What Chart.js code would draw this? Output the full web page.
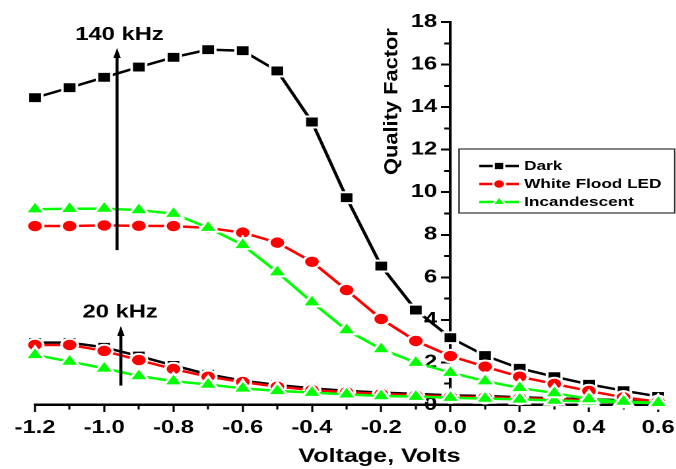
<!DOCTYPE html>
<html><head><meta charset="utf-8">
<script src="https://cdn.jsdelivr.net/npm/chart.js@4/dist/chart.umd.min.js"></script>
<style>
html,body{margin:0;padding:0;background:#fff;overflow:hidden;width:676px;height:469px;}
#wrap{position:absolute;left:0;top:0;width:512px;height:469px;transform:scaleX(1.3203125);transform-origin:0 0;}
</style></head><body>
<div id="wrap"><canvas id="c"></canvas></div>
<script>
// ---------- data ----------
const voltages = [-1.2,-1.1,-1.0,-0.9,-0.8,-0.7,-0.6,-0.5,-0.4,-0.3,-0.2,-0.1,0.0,0.1,0.2,0.3,0.4,0.5,0.6];
const dark140 = [14.44,14.91,15.40,15.88,16.34,16.70,16.65,15.70,13.30,9.74,6.53,4.46,3.16,2.32,1.72,1.33,0.97,0.67,0.40];
const led140  = [8.41,8.41,8.44,8.42,8.41,8.32,8.10,7.63,6.73,5.40,4.04,3.01,2.30,1.80,1.33,0.99,0.66,0.36,0.15];
const inc140  = [9.20,9.22,9.23,9.16,8.99,8.33,7.52,6.24,4.83,3.52,2.63,1.99,1.52,1.12,0.80,0.56,0.28,0.16,0.10];
const dark20  = [2.93,2.93,2.71,2.30,1.86,1.44,1.14,0.94,0.78,0.66,0.58,0.52,0.45,0.42,0.36,0.31,0.27,0.22,0.17];
const led20   = [2.82,2.82,2.54,2.11,1.69,1.33,1.08,0.86,0.70,0.60,0.52,0.45,0.39,0.36,0.32,0.27,0.22,0.17,0.12];
const inc20   = [2.35,2.04,1.72,1.36,1.12,0.96,0.78,0.66,0.58,0.50,0.42,0.39,0.34,0.30,0.26,0.21,0.16,0.12,0.08];
const seriesNames = ['Dark','White Flood LED','Incandescent'];
const freqLabels = ['140 kHz','20 kHz'];
const xTitle = 'Voltage, Volts';
const yTitle = 'Quality Factor';

// ---------- styling / layout ----------
const S = 676/512;
const FONT = "'Liberation Sans', Arial, sans-serif";
const colors = ['#000000','#ff0000','#00ff00'];
const shapes = ['rect','circle','triangle'];
const radii = [7.7,6.2,8.4];
const orders = [3,2,1];
const annotations = [
  {text: freqLabels[0], tx: -0.956, ty: 17.15, ax: -0.963, yBottom: 7.28, yTop: 16.78},
  {text: freqLabels[1], tx: -0.954, ty: 4.12, ax: -0.952, yBottom: 0.91, yTop: 3.71}
];

function pts(vals){ return vals.map((v,i)=>({x: voltages[i], y: v})); }
function ds(label, vals, k, inLegend){
  return {label, data: pts(vals), borderColor: colors[k], backgroundColor: colors[k],
    pointBackgroundColor: colors[k], pointBorderColor:'#ffffff', pointBorderWidth:2,
    pointStyle: shapes[k], pointRadius: radii[k], borderWidth:2.5, tension:0, clip:false,
    order: orders[k], inLegend};
}
const datasets = [
  ds(seriesNames[0], dark140, 0, true),
  ds(seriesNames[1], led140, 1, true),
  ds(seriesNames[2], inc140, 2, true),
  ds(seriesNames[0]+' ('+freqLabels[1]+')', dark20, 0, false),
  ds(seriesNames[1]+' ('+freqLabels[1]+')', led20, 1, false),
  ds(seriesNames[2]+' ('+freqLabels[1]+')', inc20, 2, false)
];

function drawMarker(ctx, shape, x, y, r, fill, bw){
  ctx.beginPath();
  if (shape==='rect'){ const s=Math.SQRT1_2*r; ctx.rect(x-s,y-s,2*s,2*s); }
  else if (shape==='circle'){ ctx.arc(x,y,r,0,Math.PI*2); }
  else { let a=0; ctx.moveTo(x+Math.sin(a)*r, y-Math.cos(a)*r); a+=2*Math.PI/3; ctx.lineTo(x+Math.sin(a)*r, y-Math.cos(a)*r); a+=2*Math.PI/3; ctx.lineTo(x+Math.sin(a)*r, y-Math.cos(a)*r); ctx.closePath(); }
  ctx.fillStyle=fill; ctx.fill();
  if (bw){ ctx.lineWidth=bw; ctx.strokeStyle='#fff'; ctx.stroke(); }
}

const decor = {
  id:'decor',
  afterDatasetsDraw(chart){
    const ctx = chart.ctx, xs = chart.scales.x, ys = chart.scales.y;
    ctx.save();
    // frequency annotations with arrows
    annotations.forEach(a=>{
      const x = xs.getPixelForValue(a.ax), yb = ys.getPixelForValue(a.yBottom), yt = ys.getPixelForValue(a.yTop);
      ctx.strokeStyle='#000'; ctx.fillStyle='#000'; ctx.lineWidth=2.3;
      ctx.beginPath(); ctx.moveTo(x,yb); ctx.lineTo(x,yt+8); ctx.stroke();
      ctx.beginPath(); ctx.moveTo(x,yt); ctx.lineTo(x-2.8,yt+10); ctx.lineTo(x+2.8,yt+10); ctx.closePath(); ctx.fill();
      ctx.font = 'bold 18px '+FONT; ctx.textAlign='center'; ctx.textBaseline='alphabetic';
      ctx.fillText(a.text, xs.getPixelForValue(a.tx), ys.getPixelForValue(a.ty));
    });
    // x axis title
    ctx.font = 'bold 19px '+FONT; ctx.textAlign='center'; ctx.textBaseline='alphabetic'; ctx.fillStyle='#000';
    ctx.fillText(xTitle, xs.getPixelForValue(-0.205), chart.chartArea.bottom + 57);
    // y axis title (reads bottom to top)
    ctx.save();
    ctx.translate(xs.getPixelForValue(0) - 40.2, ys.getPixelForValue(14.26));
    ctx.rotate(-Math.PI/2);
    ctx.scale(1.12, 1/S);
    ctx.font = 'bold 19.5px '+FONT; ctx.textAlign='center'; ctx.textBaseline='alphabetic';
    ctx.fillText(yTitle, 0, 0);
    ctx.restore();
    // legend box
    const L = 347.7, T = 149, W = 163.3, H = 64;
    ctx.fillStyle='#fff'; ctx.fillRect(L,T,W,H);
    ctx.strokeStyle='#333'; ctx.lineWidth=1.2; ctx.strokeRect(L,T,W,H);
    const items = chart.data.datasets.filter(d=>d.inLegend);
    items.forEach((d,i)=>{
      const y = 166 + i*18;
      ctx.strokeStyle=d.borderColor; ctx.lineWidth=2.5;
      ctx.beginPath(); ctx.moveTo(363,y); ctx.lineTo(393,y); ctx.stroke();
      const k = shapes.indexOf(d.pointStyle);
      drawMarker(ctx, d.pointStyle, 378, y, [5.6,4.5,5.6][k], d.borderColor, 1.6);
      ctx.fillStyle='#000'; ctx.font='bold 13px '+FONT; ctx.textAlign='left'; ctx.textBaseline='middle';
      ctx.fillText(d.label, 397, y+0.5);
    });
    ctx.restore();
  }
};

const minorDash = (c) => (c.tick && Math.abs(Math.round(c.tick.value*10)) % 2 === 1 ? [3.5, 60] : []);
const minorDashY = (c) => (c.tick && Math.round(c.tick.value) % 2 === 1 ? [3.5, 60] : []);

new Chart(document.getElementById('c'), {
  type:'line',
  data:{datasets},
  options:{
    responsive:true, maintainAspectRatio:false, animation:false, devicePixelRatio:2,
    layout:{padding:{left:26.5, right:13.5, top:22, bottom:25}},
    plugins:{legend:{display:false}, tooltip:{enabled:false}},
    scales:{
      x:{type:'linear', position:'bottom', min:-1.2, max:0.6,
        ticks:{stepSize:0.1, autoSkip:false, maxRotation:0, padding:0, color:'#000',
          font:{family:FONT, size:18, weight:'bold', lineHeight:1.78},
          callback:(v)=> (Math.abs(Math.round(v*10))%2===0 ? (Math.round(v*10)/10).toFixed(1) : '')},
        grid:{drawOnChartArea:false, drawTicks:true, tickLength:7, tickColor:'#000', tickWidth:1.6,
          tickBorderDash: minorDash},
        border:{display:true, color:'#000', width:2.5},
        title:{display:false}},
      y:{type:'linear', position:{x:0}, min:0, max:18,
        ticks:{stepSize:1, autoSkip:false, padding:4, color:'#000',
          font:{family:FONT, size:18, weight:'bold'},
          callback:(v)=> (v%2===0 ? String(v) + '\u0020\u0020' : '')},
        grid:{drawOnChartArea:false, drawTicks:true, tickLength:6, tickColor:'#000', tickWidth:2,
          tickBorderDash: minorDashY},
        border:{display:true, color:'#000', width:2},
        title:{display:false}}
    }
  },
  plugins:[decor]
});
</script>
</body></html>
